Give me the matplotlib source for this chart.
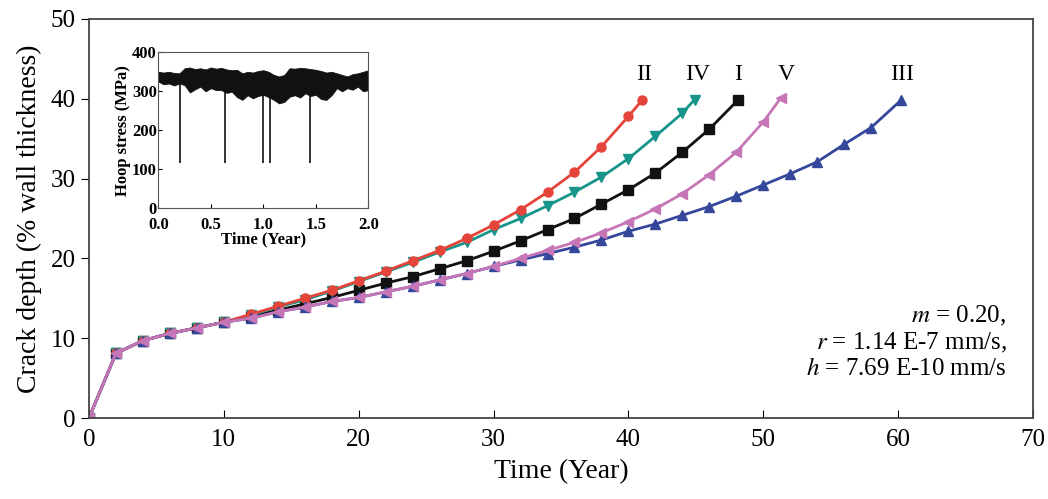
import matplotlib
matplotlib.use("Agg")
import matplotlib.pyplot as plt

plt.rcParams['font.family'] = ['Liberation Serif', 'DejaVu Serif']
plt.rcParams['mathtext.fontset'] = 'stix'

# --- crack depth curves (% wall thickness) vs time (year) ---
common_t = [0, 2, 4, 6, 8, 10]
common_d = [0, 8.1, 9.7, 10.6, 11.3, 12.0]

t_I = common_t + [12, 14, 16, 18, 20, 22, 24, 26, 28, 30, 32, 34, 36, 38, 40, 42, 44, 46, 48.1]
d_I = common_d + [12.7, 13.5, 14.3, 15.1, 16.0, 16.9, 17.7, 18.7, 19.7, 20.9, 22.2, 23.6, 25.0, 26.8, 28.6, 30.7, 33.3, 36.2, 39.8]

t_II = common_t + [12, 14, 16, 18, 20, 22, 24, 26, 28, 30, 32, 34, 36, 38, 40, 41]
d_II = common_d + [13.0, 14.0, 15.0, 16.0, 17.2, 18.4, 19.7, 21.0, 22.5, 24.2, 26.1, 28.3, 30.8, 34.0, 37.8, 39.8]

t_III = common_t + [12, 14, 16, 18, 20, 22, 24, 26, 28, 30, 32, 34, 36, 38, 40, 42, 44, 46, 48, 50, 52, 54, 56, 58, 60.2]
d_III = common_d + [12.5, 13.3, 13.9, 14.6, 15.1, 15.8, 16.5, 17.3, 18.1, 19.0, 19.8, 20.6, 21.4, 22.3, 23.4, 24.3, 25.4, 26.5, 27.8, 29.2, 30.6, 32.1, 34.3, 36.4, 39.8]

t_IV = common_t + [12, 14, 16, 18, 20, 22, 24, 26, 28, 30, 32, 34, 36, 38, 40, 42, 44, 44.9]
d_IV = common_d + [12.9, 13.9, 14.8, 15.9, 17.1, 18.3, 19.5, 20.8, 22.0, 23.6, 25.0, 26.6, 28.3, 30.2, 32.5, 35.3, 38.2, 39.9]

t_V = common_t + [12, 14, 16, 18, 20, 22, 24, 26, 28, 30, 32, 34, 36, 38, 40, 42, 44, 46, 48, 50, 51.3]
d_V = common_d + [12.5, 13.3, 13.9, 14.6, 15.1, 15.8, 16.5, 17.3, 18.1, 19.0, 20.0, 21.0, 22.0, 23.2, 24.6, 26.2, 28.1, 30.5, 33.3, 37.1, 40.1]

curve_labels = ['II', 'IV', 'I', 'V', 'III']
label_x = [41.2, 45.1, 48.1, 51.7, 60.3]
label_y = 43.0

# --- inset: hoop stress envelope (MPa) vs time (year) ---
hoop_t = [0.0, 0.05, 0.1, 0.15, 0.2, 0.25, 0.3, 0.35, 0.4, 0.45, 0.5, 0.55, 0.6, 0.65, 0.7, 0.75, 0.8, 0.85,
          0.9, 0.95, 1.0, 1.05, 1.1, 1.15, 1.2, 1.25, 1.3, 1.35, 1.4, 1.45, 1.5, 1.55, 1.6, 1.65, 1.7, 1.75,
          1.8, 1.85, 1.9, 1.95, 2.0]
hoop_hi = [350, 348, 350, 347, 346, 359, 361, 357, 359, 356, 361, 358, 360, 356, 354, 355, 346, 350,
           348, 352, 354, 350, 342, 338, 342, 359, 358, 360, 359, 357, 355, 352, 348, 350, 346, 342,
           338, 344, 346, 350, 354]
hoop_lo = [325, 318, 320, 315, 320, 316, 297, 305, 312, 300, 308, 303, 303, 296, 299, 285, 278, 290,
           282, 288, 291, 285, 278, 269, 273, 286, 290, 284, 295, 288, 291, 280, 278, 290, 308, 300,
           308, 304, 312, 300, 303]
drop_t = [0.205, 0.635, 0.995, 1.06, 1.445]
drop_min = 117

fig = plt.figure(figsize=(10.48, 4.99), dpi=100)
ax = fig.add_axes([0.0849, 0.1623, 0.9008, 0.7997])

styles = [
    (t_II, d_II, '#e5443a', 'o'),
    (t_IV, d_IV, '#17958a', 'v'),
    (t_I, d_I, '#111111', 's'),
    (t_V, d_V, '#c676b6', '<'),
    (t_III, d_III, '#34479b', '^'),
]
# draw lower curves last so the shared start looks pink like the reference
for t, d, c, m in reversed(styles[:3]):
    ax.plot(t, d, color=c, marker=m, ms=6.5, lw=2)
for t, d, c, m in [styles[4], styles[3]]:
    ax.plot(t, d, color=c, marker=m, ms=6.5, lw=2)

for lab, x in zip(curve_labels, label_x):
    ax.text(x, label_y, lab, ha='center', va='center', fontsize=17)

ax.set_xlim(0, 70)
ax.set_ylim(0, 50)
ax.set_xticks(range(0, 71, 10))
ax.set_yticks(range(0, 51, 10))
ax.tick_params(axis='x', direction='in', length=6, labelsize=18, pad=8)
ax.tick_params(axis='y', direction='out', length=6, labelsize=18)
for s in ax.spines.values():
    s.set_color('#444444')
    s.set_linewidth(1.3)
ax.set_xlabel('Time (Year)', fontsize=20, labelpad=6)
ax.set_ylabel('Crack depth (% wall thickness)', fontsize=20, labelpad=6)

ax.text(0.972, 0.285, '$m$ = 0.20,\n$r$ = 1.14 E-7 mm/s,\n$h$ = 7.69 E-10 mm/s',
        transform=ax.transAxes, ha='right', va='top', fontsize=18,
        multialignment='right', linespacing=1.15)

# inset
ins = fig.add_axes([0.1511, 0.5826, 0.2004, 0.3126])
ins.fill_between(hoop_t, hoop_lo, hoop_hi, color='#111111', lw=0.6)
ins.vlines(drop_t, drop_min, 330, color='#111111', lw=1.2)
ins.set_xlim(0, 2)
ins.set_ylim(0, 400)
ins.set_xticks([0, 0.5, 1.0, 1.5, 2.0])
ins.set_xticklabels(['0.0', '0.5', '1.0', '1.5', '2.0'])
ins.set_yticks([0, 100, 200, 300, 400])
ins.tick_params(direction='in', length=3, labelsize=12, pad=1)
ins.tick_params(axis='x', pad=6)
for lab in ins.get_xticklabels() + ins.get_yticklabels():
    lab.set_fontweight('bold')
for s in ins.spines.values():
    s.set_color('#555555')
ins.set_xlabel('Time (Year)', fontsize=12, fontweight='bold', labelpad=-1)
ins.set_ylabel('Hoop stress (MPa)', fontsize=12, fontweight='bold', labelpad=1)

fig.savefig('out.png', dpi=100)
